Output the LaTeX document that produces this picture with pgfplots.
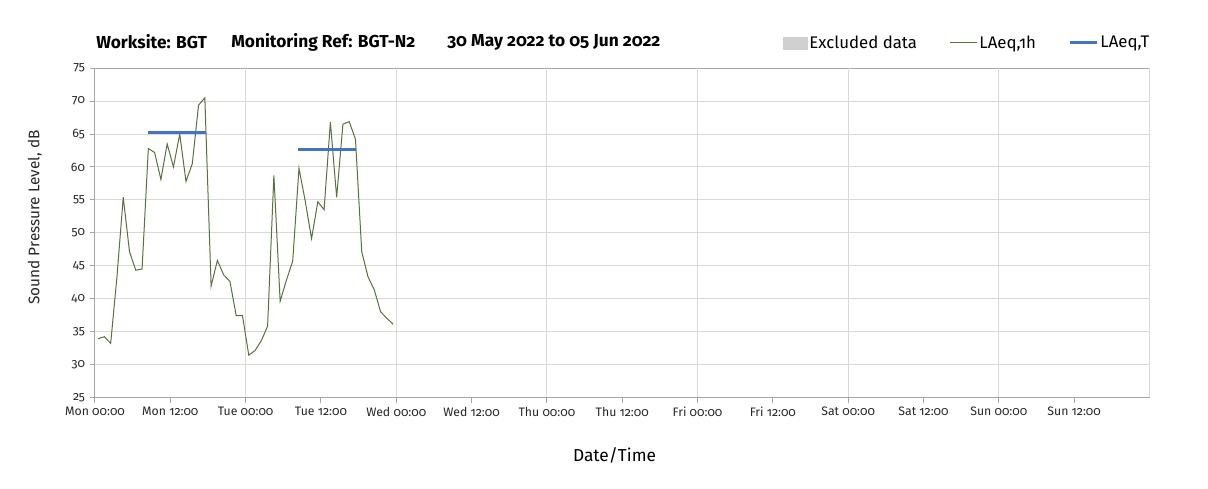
\documentclass[border=0pt]{standalone}
\usepackage{fontspec}
\setmainfont{Fira Sans}[Numbers=OldStyle]
\usepackage{pgfplots}
\usetikzlibrary{calc}
\pgfplotsset{compat=1.18}
\definecolor{gridc}{HTML}{D9D9D9}
\definecolor{axc}{HTML}{A6A6A6}
\definecolor{lgreen}{HTML}{56733A}
\definecolor{lblue}{HTML}{4472C4}
\definecolor{txt}{HTML}{262626}
\definecolor{excl}{HTML}{D0D0D0}
\begin{document}
\begin{tikzpicture}
\begin{axis}[
  name=ax,
  scale only axis,
  width=790.9pt, height=246.75pt,
  xmin=0, xmax=168, ymin=25, ymax=75,
  xtick={0,12,...,156},
  xticklabels={Mon 00:00,Mon 12:00,Tue 00:00,Tue 12:00,Wed 00:00,Wed 12:00,Thu 00:00,Thu 12:00,Fri 00:00,Fri 12:00,Sat 00:00,Sat 12:00,Sun 00:00,Sun 12:00},
  extra x ticks={24,48,...,168},
  extra x tick labels={},
  extra x tick style={grid=major, major tick length=0pt},
  ytick={25,30,...,75},
  ymajorgrids,
  grid style={gridc, line width=0.75pt},
  axis line style={axc, line width=0.75pt},
  tick style={axc, line width=0.75pt},
  major tick length=4pt,
  tick align=outside,
  xtick pos=bottom, ytick pos=left,
  /pgf/number format/assume math mode=true,
  tick label style={font=\fontsize{9.2}{11}\selectfont, text=txt},
  xlabel={Date/Time},
  ylabel={Sound Pressure Level, dB},
  xlabel style={at={(axis description cs:0.4927,-0.1754)}, anchor=center, font=\fontsize{13}{15}\selectfont, text=black},
  ylabel style={at={(axis description cs:-0.0569,0.5465)}, anchor=center, font=\fontsize{11.5}{13}\selectfont, text=txt},
  clip=false,
  legend columns=3,
  legend style={at={(axis description cs:1.002,1.0769)}, anchor=east, draw=none, fill=none,
    font=\fontsize{12.6}{14}\selectfont, inner sep=0pt,
    /tikz/every even column/.append style={column sep=23pt},
    nodes={inner sep=1.5pt}},
  legend image code/.code={\draw[#1] (0pt,0pt) -- (20pt,0pt);},
]
\addlegendimage{legend image code/.code={\fill[excl] (0pt,-4.5pt) rectangle (18pt,4.5pt);}}
\addlegendentry{Excluded data}
\addplot[lgreen, line width=0.75pt] table {
x y
0.5 33.9
1.5 34.2
2.5 33.2
3.5 43.3
4.5 55.4
5.5 47.1
6.5 44.3
7.5 44.5
8.5 62.8
9.5 62.2
10.5 58.1
11.5 63.5
12.5 60.0
13.5 65.0
14.5 57.8
15.5 60.5
16.5 69.4
17.5 70.5
18.5 41.9
19.5 45.8
20.5 43.6
21.5 42.6
22.5 37.4
23.5 37.4
24.5 31.4
25.5 32.1
26.5 33.6
27.5 35.8
28.5 58.7
29.5 39.6
30.5 42.8
31.5 45.7
32.5 59.8
33.5 54.8
34.5 49.1
35.5 54.7
36.5 53.5
37.5 66.8
38.5 55.4
39.5 66.5
40.5 66.9
41.5 64.2
42.5 47.1
43.5 43.3
44.5 41.3
45.5 38.0
46.5 37.0
47.5 36.1
};
\addlegendentry{LAeq,1h}
\addplot[lblue, line width=2.25pt, forget plot] table {
x y
8.45 65.2
17.65 65.2
};
\addplot[lblue, line width=2.25pt] table {
x y
32.4 62.7
41.6 62.7
};
\addlegendentry{LAeq,T}
\node[anchor=west, inner sep=0pt, font=\bfseries\fontsize{13}{15}\selectfont] at (axis description cs:0.001,1.080) {Worksite: BGT};
\node[anchor=west, inner sep=0pt, font=\bfseries\fontsize{13}{15}\selectfont] at (axis description cs:0.129,1.080) {Monitoring Ref: BGT-N2};
\node[anchor=west, inner sep=0pt, font=\bfseries\fontsize{13}{15}\selectfont] at (axis description cs:0.3338,1.080) {30 May 2022 to 05 Jun 2022};
\end{axis}
\path[use as bounding box] ($(ax.south west)+(-71.25pt,-68.8pt)$) rectangle ($(ax.north east)+(43.9pt,51.2pt)$);
\end{tikzpicture}
\end{document}
